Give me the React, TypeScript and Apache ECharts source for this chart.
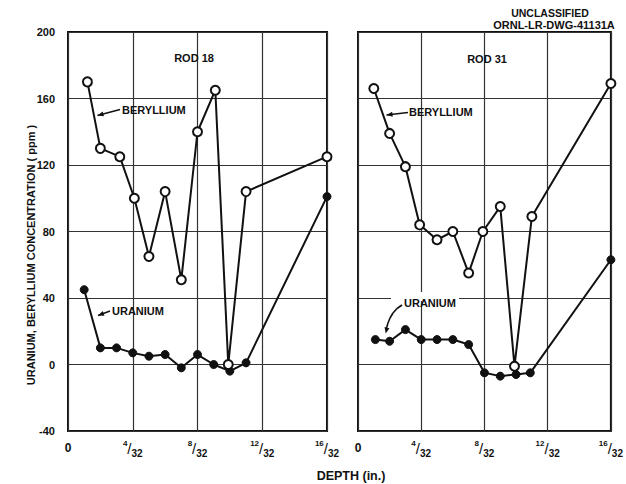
import React, { useEffect, useRef } from 'react';
import * as echarts from 'echarts';

// depth in 1/32 in.
const xTicks = [0, 4, 8, 12, 16];
const yMin = -40;
const yMax = 200;
const yStep = 40;

const rod18BeX = [1.2, 2, 3.2, 4.1, 5, 6, 7, 8, 9.1, 9.9, 11, 16];
const rod18Be = [170, 130, 125, 100, 65, 104, 51, 140, 165, 0, 104, 125];
const rod18UX = [1, 2, 3, 4, 5, 6, 7, 8, 9, 10, 11, 16];
const rod18U = [45, 10, 10, 7, 5, 6, -2, 6, 0, -4, 1, 101];

const rod31BeX = [1, 2, 3, 3.9, 5, 6, 7, 7.9, 9, 9.9, 11, 16];
const rod31Be = [166, 139, 119, 84, 75, 80, 55, 80, 95, -1, 89, 169];
const rod31UX = [1.1, 2, 3, 4, 5, 6, 7, 8, 9, 10, 10.9, 16];
const rod31U = [15, 14, 21, 15, 15, 15, 12, -5, -7, -6, -5, 63];

const FONT = '"Liberation Sans", Arial, sans-serif';
const INK = '#111';

function pairs(xs: number[], ys: number[]) {
  return xs.map((x, i) => [x, ys[i]]);
}

function arrowHead(x1: number, y1: number, x2: number, y2: number, len = 6, half = 2.5) {
  const dx = x2 - x1;
  const dy = y2 - y1;
  const d = Math.sqrt(dx * dx + dy * dy) || 1;
  const ux = dx / d;
  const uy = dy / d;
  const bx = x2 - ux * len;
  const by = y2 - uy * len;
  const px = -uy * half;
  const py = ux * half;
  return {
    type: 'polygon',
    z: 10,
    shape: { points: [[x2, y2], [bx + px, by + py], [bx - px, by - py]] },
    style: { fill: INK },
  };
}

function seg(x1: number, y1: number, x2: number, y2: number, color = INK, w = 1.5) {
  return { type: 'line', z: 10, shape: { x1, y1, x2, y2 }, style: { stroke: color, lineWidth: w } };
}

function arrow(x1: number, y1: number, x2: number, y2: number) {
  return [seg(x1, y1, x2, y2), arrowHead(x1, y1, x2, y2)];
}

function label(text: string, x: number, y: number, size = 11, align = 'left') {
  return {
    type: 'text',
    z: 10,
    x,
    y,
    style: {
      text,
      fill: INK,
      font: `bold ${size}px ${FONT}`,
      align,
      verticalAlign: 'middle',
    },
  };
}

// curved leader for the right-hand URANIUM label
const curvePts = [[402, 305], [397, 308.5], [393, 313], [390, 318], [388, 323], [386.5, 328]];

export default function App() {
  const ref = useRef<HTMLDivElement>(null);

  useEffect(() => {
    document.body.style.margin = '0';
    if (!ref.current) return;
    const chart = echarts.init(ref.current, null, { renderer: 'svg' });

    const xAxisBase = (gridIndex: number) => ({
      type: 'value',
      gridIndex,
      min: xTicks[0],
      max: xTicks[xTicks.length - 1],
      interval: 4,
      axisLine: { show: false },
      axisTick: { show: false },
      splitLine: { show: true, lineStyle: { color: '#333', width: 1.2 } },
      axisLabel: {
        margin: 7,
        formatter: (v: number) => (v === 0 ? '{z|0}' : `{sup|${v}}{sl|/}{sub|32}`),
        rich: {
          z: { fontSize: 12, fontWeight: 'bold', color: INK, fontFamily: FONT, lineHeight: 20, verticalAlign: 'middle' },
          sup: { fontSize: 8, fontWeight: 'bold', color: INK, fontFamily: FONT, lineHeight: 20, verticalAlign: 'top', padding: [1, 0, 0, 0] },
          sl: { fontSize: 15, color: INK, fontFamily: FONT, lineHeight: 20, verticalAlign: 'middle' },
          sub: { fontSize: 10, fontWeight: 'bold', color: INK, fontFamily: FONT, lineHeight: 20, verticalAlign: 'bottom' },
        },
      },
    });

    const yAxisBase = (gridIndex: number, showLabels: boolean) => ({
      type: 'value',
      gridIndex,
      min: yMin,
      max: yMax,
      interval: yStep,
      axisLine: { show: false },
      axisTick: { show: false },
      splitLine: { show: true, lineStyle: { color: '#333', width: 1.2 } },
      axisLabel: {
        show: showLabels,
        margin: 13,
        color: INK,
        fontSize: 11,
        fontWeight: 'bold',
        fontFamily: FONT,
      },
    });

    const beStyle = {
      type: 'line',
      symbol: 'circle',
      symbolSize: 9,
      z: 4,
      lineStyle: { color: INK, width: 2 },
      itemStyle: { color: '#fff', borderColor: INK, borderWidth: 2 },
    };
    const uStyle = {
      type: 'line',
      symbol: 'circle',
      symbolSize: 8,
      z: 3,
      lineStyle: { color: INK, width: 2 },
      itemStyle: { color: INK, borderColor: INK, borderWidth: 1 },
    };

    const curveSegs = curvePts.slice(1).map((p, i) => seg(curvePts[i][0], curvePts[i][1], p[0], p[1], INK, 1.6));
    const last = curvePts[curvePts.length - 1];
    const prev = curvePts[curvePts.length - 2];

    chart.setOption({
      animation: false,
      backgroundColor: '#fff',
      grid: [
        { left: 68, top: 32, width: 259, height: 399, show: true, borderColor: INK, borderWidth: 2, backgroundColor: 'transparent' },
        { left: 358, top: 32, width: 259, height: 399, show: true, borderColor: INK, borderWidth: 2, backgroundColor: 'transparent' },
      ],
      xAxis: [xAxisBase(0), xAxisBase(1)],
      yAxis: [yAxisBase(0, true), yAxisBase(1, false)],
      series: [
        { ...uStyle, name: 'Uranium (Rod 18)', xAxisIndex: 0, yAxisIndex: 0, data: pairs(rod18UX, rod18U) },
        { ...beStyle, name: 'Beryllium (Rod 18)', xAxisIndex: 0, yAxisIndex: 0, data: pairs(rod18BeX, rod18Be) },
        { ...uStyle, name: 'Uranium (Rod 31)', xAxisIndex: 1, yAxisIndex: 1, data: pairs(rod31UX, rod31U) },
        { ...beStyle, name: 'Beryllium (Rod 31)', xAxisIndex: 1, yAxisIndex: 1, data: pairs(rod31BeX, rod31Be) },
      ],
      graphic: [
        label('UNCLASSIFIED', 550, 13, 10.5, 'center'),
        label('ORNL-LR-DWG-41131A', 554, 25, 11, 'center'),
        label('ROD 18', 194, 58, 11, 'center'),
        label('ROD 31', 487, 59, 11, 'center'),
        label('BERYLLIUM', 122, 110, 11),
        ...arrow(120, 109.5, 97.5, 115.5),
        label('URANIUM', 112, 311, 11),
        ...arrow(110, 311, 98, 315.5),
        label('BERYLLIUM', 409, 112, 11),
        ...arrow(408, 112.5, 386.5, 115),
        {
          type: 'rect',
          z: 9,
          shape: { x: 391, y: 292, width: 68, height: 9 },
          style: { fill: '#fff' },
        },
        label('URANIUM', 404, 303, 11),
        ...curveSegs,
        arrowHead(prev[0], prev[1], last[0] - 0.8, last[1] + 5.5),
        {
          type: 'text',
          z: 10,
          x: 31,
          y: 255,
          rotation: Math.PI / 2,
          style: {
            text: 'URANIUM, BERYLLIUM CONCENTRATION ( ppm )',
            fill: INK,
            font: `bold 11px ${FONT}`,
            align: 'center',
            verticalAlign: 'middle',
          },
        },
        label('DEPTH (in.)', 351, 476, 12.5, 'center'),
      ],
    });

    return () => chart.dispose();
  }, []);

  return <div ref={ref} style={{ width: 626, height: 484 }} />;
}
